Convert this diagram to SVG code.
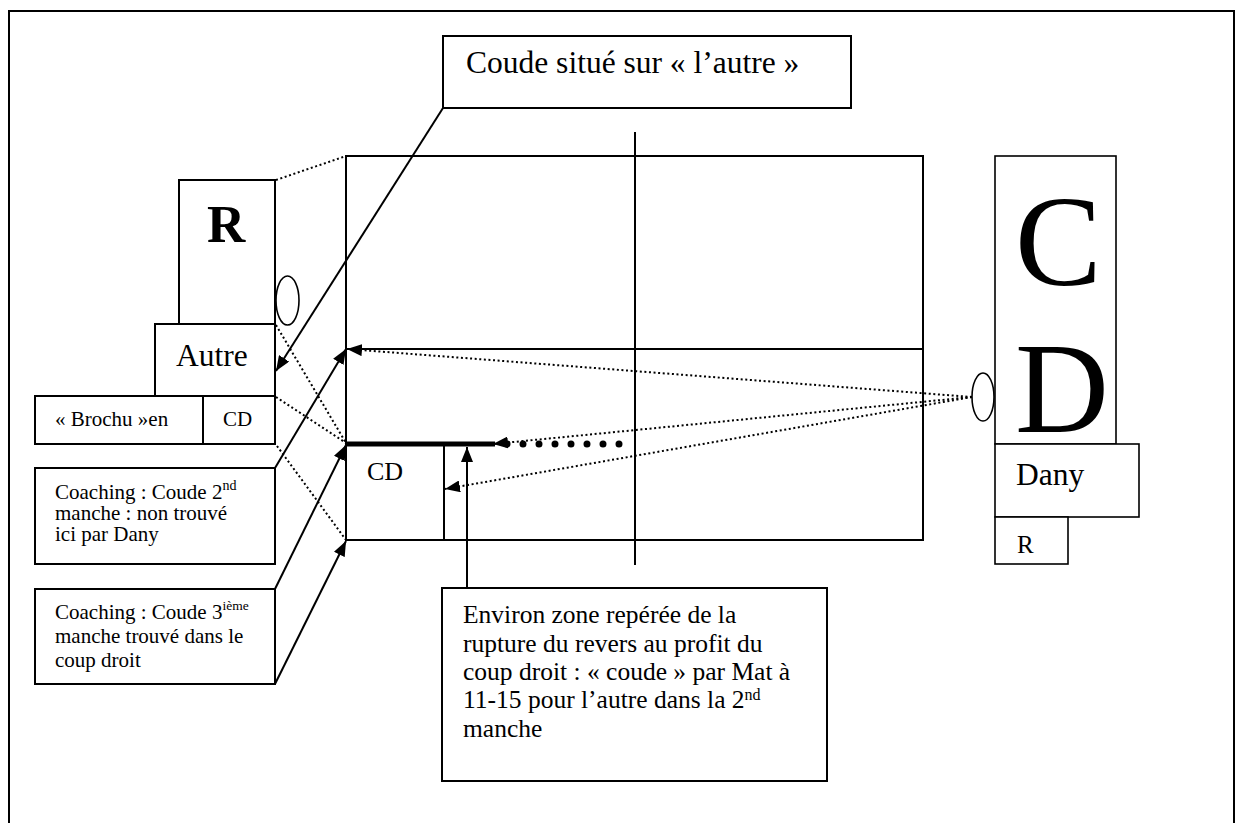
<svg xmlns="http://www.w3.org/2000/svg" width="1236" height="823" viewBox="0 0 1236 823">
  <style>
    .box{fill:#fff;stroke:#000;stroke-width:2}
    .col{fill:#fff;stroke:#000;stroke-width:1.6}
    .line{fill:none;stroke:#000;stroke-width:2}
    .dot{fill:none;stroke:#000;stroke-width:2;stroke-dasharray:2 2.6}
    .arr{marker-end:url(#arrow)}
    .ell{fill:#fff;stroke:#000;stroke-width:1.6}
    text{font-family:"Liberation Serif","Times New Roman",serif;fill:#000}
  </style>
  <defs>
    <marker id="arrow" viewBox="0 0 15 12" refX="15" refY="6" markerWidth="15" markerHeight="12" markerUnits="userSpaceOnUse" orient="auto">
      <path d="M0,0 L15,6 L0,12 Z" fill="#000"/>
    </marker>
  </defs>

  <rect x="0" y="0" width="1236" height="823" fill="#fff"/>

  <!-- page frame -->
  <rect id="frame" x="9" y="11" width="1225" height="830" fill="none" stroke="#000" stroke-width="2"/>

  <!-- court: outline, net line, centre line, CD zone -->
  <g id="court">
    <rect x="346" y="156" width="577" height="384" fill="none" stroke="#000" stroke-width="2"/>
    <line class="line" x1="346" y1="349" x2="923" y2="349"/>
    <line class="line" x1="635" y1="132" x2="635" y2="565"/>
    <line class="line" x1="444" y1="446" x2="444" y2="540"/>
    <line x1="346" y1="444" x2="495" y2="444" stroke="#000" stroke-width="5"/>
    <text x="367" y="480" font-size="26">CD</text>
  </g>

  <g id="coude-note">
    <rect class="box" x="443" y="36" width="408" height="72"/>
    <text x="466" y="73" font-size="31.5">Coude situé sur « l’autre »</text>
  </g>

  <g id="player-r">
    <rect class="box" x="179" y="180" width="96" height="144"/>
    <text x="207" y="242" font-size="53" font-weight="bold">R</text>
  </g>

  <g id="racket-left">
    <ellipse class="ell" cx="287.5" cy="300.5" rx="11.5" ry="24.5"/>
  </g>

  <g id="autre">
    <rect class="box" x="155" y="324" width="120" height="72"/>
    <text x="176" y="366" font-size="31.5">Autre</text>
  </g>

  <g id="brochu">
    <rect class="box" x="35" y="396" width="240" height="48"/>
    <line class="line" x1="203" y1="396" x2="203" y2="444"/>
    <text x="55" y="426" font-size="21">« Brochu »en</text>
    <text x="223" y="426" font-size="21">CD</text>
  </g>

  <g id="coaching-2">
    <rect class="box" x="35" y="468" width="240" height="96"/>
    <text x="55" y="499" font-size="21">Coaching : Coude 2<tspan dy="-9" font-size="14">nd</tspan></text>
    <text x="55" y="520" font-size="21">manche : non trouvé</text>
    <text x="55" y="541" font-size="21">ici par Dany</text>
  </g>

  <g id="coaching-3">
    <rect class="box" x="35" y="589" width="240" height="95"/>
    <text x="55" y="619" font-size="21">Coaching : Coude 3<tspan dy="-9" font-size="13.5">ième</tspan></text>
    <text x="55" y="643" font-size="21">manche trouvé dans le</text>
    <text x="55" y="667" font-size="21">coup droit</text>
  </g>

  <g id="rupture-note">
    <rect class="box" x="442" y="588" width="385" height="193"/>
    <text x="463" y="623" font-size="25.5">Environ zone repérée de la</text>
    <text x="463" y="652" font-size="25.5">rupture du revers au profit du</text>
    <text x="463" y="680" font-size="25.5">coup droit : « coude » par Mat à</text>
    <text x="463" y="708" font-size="25.5">11-15 pour l’autre dans la 2<tspan dy="-8" font-size="16">nd</tspan></text>
    <text x="463" y="737" font-size="25.5">manche</text>
  </g>

  <g id="player-cd">
    <rect class="col" x="995" y="156" width="121" height="288"/>
    <text x="1015" y="285" font-size="130">C</text>
    <text x="1015" y="432" font-size="130">D</text>
  </g>

  <g id="dany">
    <rect class="col" x="995" y="444" width="144" height="73"/>
    <text x="1016" y="485" font-size="31.5">Dany</text>
  </g>

  <g id="dany-r">
    <rect class="col" x="995" y="517" width="73" height="47"/>
    <text x="1017" y="553" font-size="25">R</text>
  </g>

  <g id="racket-right">
    <ellipse class="ell" cx="983" cy="397" rx="11" ry="24"/>
  </g>

  <g id="connectors">
    <!-- dotted projections of the left player onto the court -->
    <line class="dot" x1="276" y1="180" x2="346" y2="156"/>
    <line class="dot" x1="276" y1="325" x2="346" y2="443"/>
    <line class="dot" x1="276" y1="397" x2="346" y2="443"/>
    <line class="dot" x1="277" y1="446" x2="346" y2="540"/>
    <!-- dotted shots from the right racket -->
    <line class="dot arr" x1="972" y1="397" x2="347" y2="349"/>
    <line class="dot arr" x1="972" y1="397" x2="493" y2="444"/>
    <line class="dot arr" x1="972" y1="397" x2="445" y2="489"/>
    <line x1="507" y1="444" x2="620" y2="444" stroke="#000" stroke-width="7" stroke-linecap="round" stroke-dasharray="0 16"/>
    <!-- solid note leaders -->
    <line class="line arr" x1="443" y1="108" x2="276" y2="371"/>
    <line class="line arr" x1="275" y1="468" x2="346" y2="349"/>
    <line class="line arr" x1="275" y1="589" x2="346" y2="445"/>
    <line class="line arr" x1="275" y1="684" x2="346" y2="541"/>
    <line class="line arr" x1="467" y1="588" x2="467" y2="447"/>
  </g>
</svg>
